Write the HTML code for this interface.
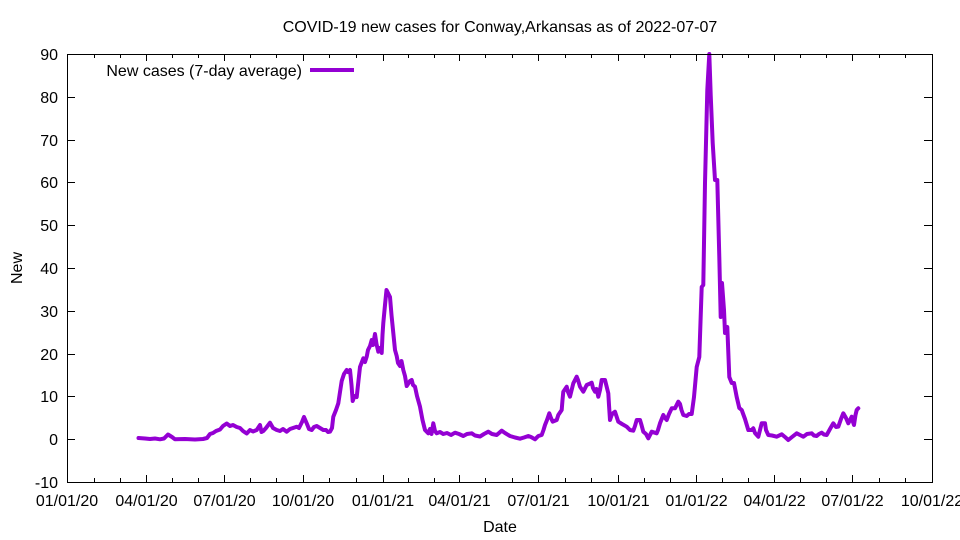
<!DOCTYPE html>
<html>
<head>
<meta charset="utf-8">
<style>
html,body{margin:0;padding:0;background:#fff;}
svg{display:block;}
text{font-family:"Liberation Sans",Arial,sans-serif;font-size:16px;fill:#000;}
</style>
</head>
<body>
<svg width="960" height="540" viewBox="0 0 960 540" xmlns="http://www.w3.org/2000/svg">
<rect x="0" y="0" width="960" height="540" fill="#fff"/>
<text x="500" y="32" text-anchor="middle">COVID-19 new cases for Conway,Arkansas as of 2022-07-07</text>

<!-- y ticks -->
<g stroke="#000" stroke-width="1" shape-rendering="crispEdges">
<line x1="67" y1="54.5" x2="75" y2="54.5"/><line x1="924" y1="54.5" x2="932" y2="54.5"/>
<line x1="67" y1="97.5" x2="75" y2="97.5"/><line x1="924" y1="97.5" x2="932" y2="97.5"/>
<line x1="67" y1="140.5" x2="75" y2="140.5"/><line x1="924" y1="140.5" x2="932" y2="140.5"/>
<line x1="67" y1="182.5" x2="75" y2="182.5"/><line x1="924" y1="182.5" x2="932" y2="182.5"/>
<line x1="67" y1="225.5" x2="75" y2="225.5"/><line x1="924" y1="225.5" x2="932" y2="225.5"/>
<line x1="67" y1="268.5" x2="75" y2="268.5"/><line x1="924" y1="268.5" x2="932" y2="268.5"/>
<line x1="67" y1="311.5" x2="75" y2="311.5"/><line x1="924" y1="311.5" x2="932" y2="311.5"/>
<line x1="67" y1="354.5" x2="75" y2="354.5"/><line x1="924" y1="354.5" x2="932" y2="354.5"/>
<line x1="67" y1="396.5" x2="75" y2="396.5"/><line x1="924" y1="396.5" x2="932" y2="396.5"/>
<line x1="67" y1="439.5" x2="75" y2="439.5"/><line x1="924" y1="439.5" x2="932" y2="439.5"/>
<line x1="67" y1="482.5" x2="75" y2="482.5"/><line x1="924" y1="482.5" x2="932" y2="482.5"/>
</g>
<g text-anchor="end">
<text x="58" y="60">90</text>
<text x="58" y="103">80</text>
<text x="58" y="146">70</text>
<text x="58" y="188">60</text>
<text x="58" y="231">50</text>
<text x="58" y="274">40</text>
<text x="58" y="317">30</text>
<text x="58" y="360">20</text>
<text x="58" y="402">10</text>
<text x="58" y="445">0</text>
<text x="58" y="488">-10</text>
</g>

<!-- x ticks major -->
<g stroke="#000" stroke-width="1" shape-rendering="crispEdges">
<line x1="67.5" y1="482" x2="67.5" y2="475"/><line x1="67.5" y1="54" x2="67.5" y2="61"/>
<line x1="146.5" y1="482" x2="146.5" y2="475"/><line x1="146.5" y1="54" x2="146.5" y2="61"/>
<line x1="224.5" y1="482" x2="224.5" y2="475"/><line x1="224.5" y1="54" x2="224.5" y2="61"/>
<line x1="303.5" y1="482" x2="303.5" y2="475"/><line x1="303.5" y1="54" x2="303.5" y2="61"/>
<line x1="383.5" y1="482" x2="383.5" y2="475"/><line x1="383.5" y1="54" x2="383.5" y2="61"/>
<line x1="459.5" y1="482" x2="459.5" y2="475"/><line x1="459.5" y1="54" x2="459.5" y2="61"/>
<line x1="538.5" y1="482" x2="538.5" y2="475"/><line x1="538.5" y1="54" x2="538.5" y2="61"/>
<line x1="618.5" y1="482" x2="618.5" y2="475"/><line x1="618.5" y1="54" x2="618.5" y2="61"/>
<line x1="696.5" y1="482" x2="696.5" y2="475"/><line x1="696.5" y1="54" x2="696.5" y2="61"/>
<line x1="774.5" y1="482" x2="774.5" y2="475"/><line x1="774.5" y1="54" x2="774.5" y2="61"/>
<line x1="852.5" y1="482" x2="852.5" y2="475"/><line x1="852.5" y1="54" x2="852.5" y2="61"/>
</g>
<!-- x ticks minor -->
<g stroke="#000" stroke-width="1" shape-rendering="crispEdges">
<line x1="94.5" y1="482" x2="94.5" y2="478"/><line x1="94.5" y1="54" x2="94.5" y2="58"/>
<line x1="120.5" y1="482" x2="120.5" y2="478"/><line x1="120.5" y1="54" x2="120.5" y2="58"/>
<line x1="172.5" y1="482" x2="172.5" y2="478"/><line x1="172.5" y1="54" x2="172.5" y2="58"/>
<line x1="198.5" y1="482" x2="198.5" y2="478"/><line x1="198.5" y1="54" x2="198.5" y2="58"/>
<line x1="250.5" y1="482" x2="250.5" y2="478"/><line x1="250.5" y1="54" x2="250.5" y2="58"/>
<line x1="276.5" y1="482" x2="276.5" y2="478"/><line x1="276.5" y1="54" x2="276.5" y2="58"/>
<line x1="329.5" y1="482" x2="329.5" y2="478"/><line x1="329.5" y1="54" x2="329.5" y2="58"/>
<line x1="356.5" y1="482" x2="356.5" y2="478"/><line x1="356.5" y1="54" x2="356.5" y2="58"/>
<line x1="408.5" y1="482" x2="408.5" y2="478"/><line x1="408.5" y1="54" x2="408.5" y2="58"/>
<line x1="434.5" y1="482" x2="434.5" y2="478"/><line x1="434.5" y1="54" x2="434.5" y2="58"/>
<line x1="485.5" y1="482" x2="485.5" y2="478"/><line x1="485.5" y1="54" x2="485.5" y2="58"/>
<line x1="512.5" y1="482" x2="512.5" y2="478"/><line x1="512.5" y1="54" x2="512.5" y2="58"/>
<line x1="565.5" y1="482" x2="565.5" y2="478"/><line x1="565.5" y1="54" x2="565.5" y2="58"/>
<line x1="591.5" y1="482" x2="591.5" y2="478"/><line x1="591.5" y1="54" x2="591.5" y2="58"/>
<line x1="644.5" y1="482" x2="644.5" y2="478"/><line x1="644.5" y1="54" x2="644.5" y2="58"/>
<line x1="670.5" y1="482" x2="670.5" y2="478"/><line x1="670.5" y1="54" x2="670.5" y2="58"/>
<line x1="722.5" y1="482" x2="722.5" y2="478"/><line x1="722.5" y1="54" x2="722.5" y2="58"/>
<line x1="748.5" y1="482" x2="748.5" y2="478"/><line x1="748.5" y1="54" x2="748.5" y2="58"/>
<line x1="800.5" y1="482" x2="800.5" y2="478"/><line x1="800.5" y1="54" x2="800.5" y2="58"/>
<line x1="826.5" y1="482" x2="826.5" y2="478"/><line x1="826.5" y1="54" x2="826.5" y2="58"/>
<line x1="879.5" y1="482" x2="879.5" y2="478"/><line x1="879.5" y1="54" x2="879.5" y2="58"/>
<line x1="905.5" y1="482" x2="905.5" y2="478"/><line x1="905.5" y1="54" x2="905.5" y2="58"/>
</g>
<g text-anchor="middle">
<text x="67" y="506">01/01/20</text>
<text x="146.5" y="506">04/01/20</text>
<text x="224.5" y="506">07/01/20</text>
<text x="303" y="506">10/01/20</text>
<text x="383" y="506">01/01/21</text>
<text x="459.5" y="506">04/01/21</text>
<text x="538.5" y="506">07/01/21</text>
<text x="618.5" y="506">10/01/21</text>
<text x="696.5" y="506">01/01/22</text>
<text x="774.5" y="506">04/01/22</text>
<text x="852.5" y="506">07/01/22</text>
<text x="932" y="506">10/01/22</text>
<text x="500" y="532">Date</text>
</g>
<text x="0" y="0" text-anchor="middle" transform="translate(22,268) rotate(-90)">New</text>

<!-- legend -->
<text x="302" y="76" text-anchor="end">New cases (7-day average)</text>
<line x1="310" y1="70" x2="354" y2="70" stroke="#9400D3" stroke-width="4"/>

<!-- data -->
<polyline fill="none" stroke="#9400D3" stroke-width="4" stroke-linejoin="round" stroke-linecap="round" points="
138.5,438 145,438.5 150,439 155,438.5 160,439.3 164,438.5 168,434.5 172,437 175,439.3 185,439 195,439.5 203,439 207,438 210,434 213,433 216,431 220,429.5 223,426 226.7,423.5 230,426 233,425 236.7,427 240,428 243,431 246.7,433.5 250,430 253,431.5 256.7,430 260,425 261.5,432 263.3,431 266,428 270,422.7 273,428 276.7,430 280,431 283,429 286.7,431.7 290,429 293,428 296.7,426.7 299,428 302,422 304,417 307,424 309,429 311.7,430 314,427 316.7,426 320,428 323.3,430 326,430 328,432 330,431.7 332,428 333.3,416.7 336,410 338.3,403.3 340,392 341.7,381 344,374 346.7,370 348,372 350,370 351.5,385 352.7,401 354.5,396 356.7,397 358,385 360,367 363.3,358.3 365,362 366.7,356.7 368,350 370,346 371.7,340 373,345 375,334 376.5,344 378.3,351.7 380,348 381.7,353 382.5,335 383.3,323 385,305 386.5,290 388,293 390,297 391.5,315 393.3,333 395,350 396.7,356 398,363 400,366 401.5,361 403.3,370 405,376 406.7,386 408,384 410,381 411.7,380 413,385 415,386.7 417,396 420,406.7 422.5,420 425,430 428.3,433.3 430,429 431.5,434 433.3,423.3 435,431 436.7,433.3 440,432 443.3,434 447,433 451,435 455,432.7 459,434 463.3,436 467,434 471.7,433.3 475,435.5 480,436.5 484,434 488.3,431.7 492,434 496.7,435 501.7,430.7 505,433 510,436 515,437.5 520,438.7 524,437.5 528.3,436 531,437 535,439.3 538.3,436 541.7,435 543.5,430 545,425 547,420 549.3,413.3 551,418 552.7,421.7 556.7,420 558.3,415 561.7,410 562.5,400 563.3,391.7 566.7,386.7 568,392 570,396.7 573.3,383.3 576.7,376.7 578,380 580,386.7 583.3,391.7 586.7,385 589,384 591.7,382.7 593,388 595,391.7 596.5,389 598.3,396.7 600,390 601.7,380 605,380 606.5,386 608.3,393.3 609,405 610,420 612,414 615,411.7 618.3,421.7 622,424 626.7,426.7 630,430 633.3,430.7 635,426 636.7,420 640,420 641.5,425 643.3,431.7 646,434 648.3,438.3 651.7,431.7 656.7,433.3 658,430 660,423.3 663.3,415 665,418 666.7,420 669,414 671.7,408.3 675,408.3 678.3,401.7 680,404 681.5,410 683.3,415 686.7,416 689,414 691.7,414 694,397 696.7,367 699.3,357 701.7,287 703.3,285 705,183 707.3,90 709.3,54 710.7,95 712.7,143 715,180 717.3,180 719.3,257 720.7,317 722,283 724,310 725,333 727.3,327 729.3,377 731.7,383 734,383 736.7,397 739.3,408 741.7,410 745,419 748.3,430 751.7,430 753.3,428.3 755,433 758.3,436.7 760,430 761.7,423.3 765,423.3 766,430 768.3,435 772,435.5 776.7,436.7 781.7,434.3 785,437 788.3,440 792,437 796.7,433.3 800,435 803.3,436.7 807,434 811.7,433.3 814,435.5 816.7,436 819,434 821.7,432.7 824,434.5 826.7,435 830,429 833.3,423.3 836,427 838.3,426.7 841,419 843.3,413.3 846,418 848.3,423.3 850,420 851.7,416.7 853,422 854,425 855.5,415 856.7,410 858.3,408.3"/>

<!-- frame -->
<rect x="67.5" y="54.5" width="865" height="428" fill="none" stroke="#000" stroke-width="1" shape-rendering="crispEdges"/>
</svg>
</body>
</html>
